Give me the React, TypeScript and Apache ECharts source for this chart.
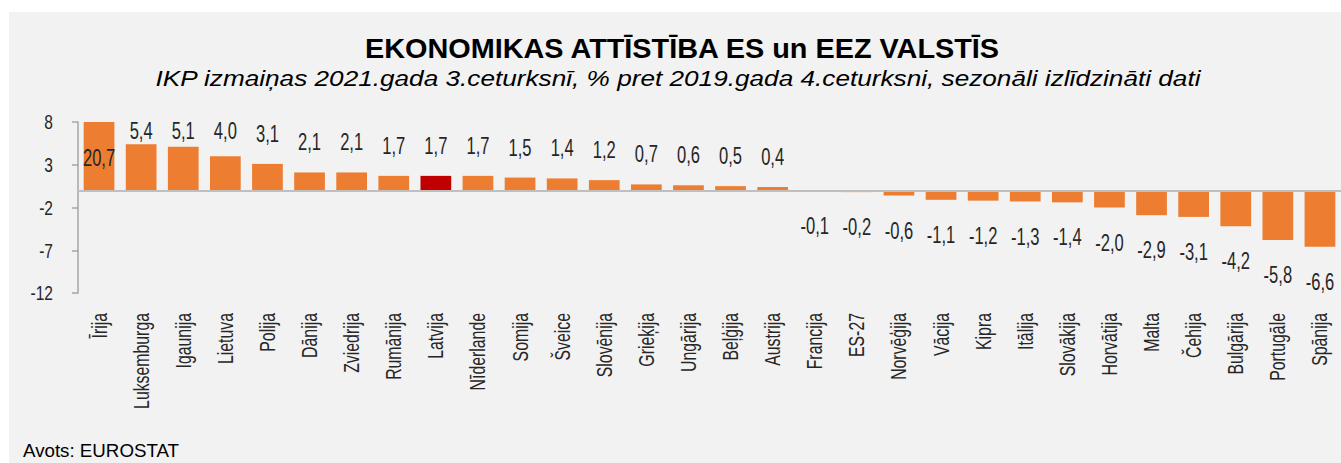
import React, { useEffect, useRef } from "react";
import * as echarts from "echarts";

const title = "EKONOMIKAS ATTĪSTĪBA ES un EEZ VALSTĪS";
const subtitle =
  "IKP izmaiņas 2021.gada 3.ceturksnī, % pret 2019.gada 4.ceturksni, sezonāli izlīdzināti dati";
const source = "Avots: EUROSTAT";

const categories = [
  "Īrija", "Luksemburga", "Igaunija", "Lietuva", "Polija", "Dānija", "Zviedrija",
  "Rumānija", "Latvija", "Nīderlande", "Somija", "Šveice", "Slovēnija", "Grieķija",
  "Ungārija", "Beļģija", "Austrija", "Francija", "ES-27", "Norvēģija", "Vācija",
  "Kipra", "Itālija", "Slovākija", "Horvātija", "Malta", "Čehija", "Bulgārija",
  "Portugāle", "Spānija",
];
const values = [
  20.7, 5.4, 5.1, 4.0, 3.1, 2.1, 2.1, 1.7, 1.7, 1.7, 1.5, 1.4, 1.2, 0.7, 0.6, 0.5, 0.4,
  -0.1, -0.2, -0.6, -1.1, -1.2, -1.3, -1.4, -2.0, -2.9, -3.1, -4.2, -5.8, -6.6,
];
const highlight = "Latvija";

const yMin = -12;
const yMax = 8;
const yInterval = 5;
const yTicks = [-12, -7, -2, 3, 8];

const SANS = "'Liberation Sans', Arial, sans-serif";
const TEXT = "#262626";

const fmt = (v: number) => v.toFixed(1).replace(".", ",");

export default function App() {
  const ref = useRef<HTMLDivElement>(null);

  useEffect(() => {
    if (!ref.current) return;
    const chart = echarts.init(ref.current, null, { renderer: "svg" });

    const barData = values.map((v, i) => ({
      value: v,
      itemStyle: { color: categories[i] === highlight ? "#C00000" : "#ED7D31" },
    }));

    chart.setOption({
      animation: false,
      backgroundColor: "#f2f2f2",
      graphic: [
        {
          type: "text",
          x: 673,
          y: 36,
          scaleX: 1.03,
          style: {
            text: title,
            font: `bold 28px ${SANS}`,
            fill: "#000",
            align: "center",
            verticalAlign: "middle",
          },
        },
        {
          type: "text",
          x: 669,
          y: 66,
          scaleX: 1.19,
          style: {
            text: subtitle,
            font: `italic 22px ${SANS}`,
            fill: "#000",
            align: "center",
            verticalAlign: "middle",
          },
        },
        {
          type: "text",
          x: 14,
          y: 439,
          scaleX: 1.04,
          style: {
            text: source,
            font: `18px ${SANS}`,
            fill: "#000",
            align: "left",
            verticalAlign: "middle",
          },
        },
      ],
      grid: { left: 69, right: -9, top: 110, bottom: 170, containLabel: false },
      xAxis: {
        type: "category",
        data: categories,
        axisLine: { show: false, onZero: false },
        axisTick: { show: false },
        axisLabel: { show: false },
      },
      yAxis: {
        type: "value",
        min: yMin,
        max: yMax,
        interval: yInterval,
        axisLine: { show: true, lineStyle: { color: "#a6a6a6", width: 1.5 } },
        axisTick: { show: true, length: 6, lineStyle: { color: "#a6a6a6", width: 1.5 } },
        splitLine: { show: false },
        axisLabel: { show: false },
      },
      series: [
        {
          type: "bar",
          data: barData,
          clip: true,
          barCategoryGap: "27%",
          markLine: {
            silent: true,
            symbol: "none",
            label: { show: false },
            lineStyle: { color: "#bfbfbf", width: 2, type: "solid" },
            data: [{ yAxis: 0 }],
          },
        },
        {
          // value labels
          type: "custom",
          clip: false,
          z: 5,
          data: values.map((v, i) => [i, v]),
          encode: { x: 0, y: 1 },
          renderItem: (params: any, api: any) => {
            const i = api.value(0);
            const v = api.value(1);
            const end = api.coord([i, Math.min(v, yMax)]);
            const zero = api.coord([i, 0]);
            const gridTop = params.coordSys.y;
            let y: number;
            if (v > yMax) y = (end[1] + zero[1]) / 2 + 2;
            else if (v >= 0) y = Math.max(end[1] - 30, gridTop + 9);
            else y = end[1] + 35;
            return {
              type: "text",
              x: end[0],
              y,
              scaleX: 0.72,
              style: {
                text: fmt(v),
                font: `23px ${SANS}`,
                fill: TEXT,
                align: "center",
                verticalAlign: "middle",
              },
            };
          },
        },
        {
          // category labels
          type: "custom",
          clip: false,
          z: 5,
          data: categories.map((_, i) => [i, yMin]),
          encode: { x: 0, y: 1 },
          renderItem: (params: any, api: any) => {
            const i = api.value(0);
            const p = api.coord([i, yMin]);
            return {
              type: "text",
              x: p[0],
              y: p[1] + 20,
              rotation: Math.PI / 2,
              scaleX: 0.72,
              style: {
                text: categories[i],
                font: `22px ${SANS}`,
                fill: TEXT,
                align: "right",
                verticalAlign: "middle",
              },
            };
          },
        },
        {
          // y tick labels
          type: "custom",
          clip: false,
          z: 5,
          data: yTicks.map((t) => [0, t]),
          encode: { x: 0, y: 1 },
          renderItem: (params: any, api: any) => {
            const t = api.value(1);
            const p = api.coord([0, t]);
            return {
              type: "text",
              x: params.coordSys.x - 25,
              y: p[1],
              scaleX: 0.74,
              style: {
                text: String(t),
                font: `21px ${SANS}`,
                fill: TEXT,
                align: "right",
                verticalAlign: "middle",
              },
            };
          },
        },
      ],
    });

    return () => chart.dispose();
  }, []);

  return (
    <div
      ref={ref}
      style={{ position: "absolute", left: 9, top: 12, width: 1332, height: 451 }}
    />
  );
}
